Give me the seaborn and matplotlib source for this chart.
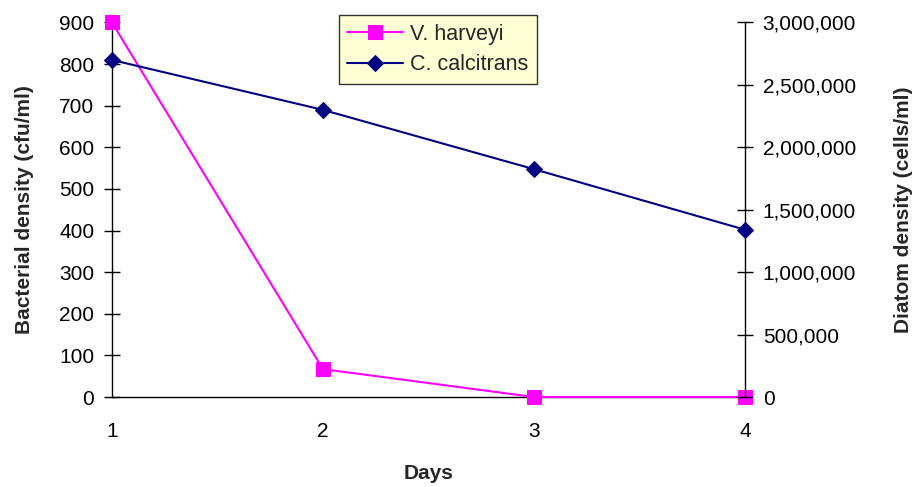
import matplotlib
matplotlib.use("Agg")
import matplotlib.pyplot as plt
import matplotlib.ticker as mticker
import seaborn as sns

# data
days = [1, 2, 3, 4]
v_harveyi = [900, 67, 0, 0]                              # cfu/ml
c_calcitrans = [2700000, 2300000, 1825000, 1340000]      # cells/ml

sns.set_style("white")
plt.rcParams['font.family'] = ['Liberation Sans', 'DejaVu Sans']

fig = plt.figure(figsize=(9.15, 4.87), dpi=100)
ax = fig.add_axes([0.1224, 0.1848, 0.6918, 0.7690])
ax2 = ax.twinx()

sns.lineplot(x=days, y=v_harveyi, ax=ax, color='#FF00FF', marker='s',
             markersize=9.5, markeredgecolor='#FF00FF', linewidth=1.5,
             label='V. harveyi', legend=False, clip_on=False, zorder=5)
sns.lineplot(x=days, y=c_calcitrans, ax=ax2, color='#000080', marker='D',
             markersize=8, markeredgecolor='#000080', linewidth=1.5,
             label='C. calcitrans', legend=False, clip_on=False, zorder=4)

ax.set_xlim(1, 4)
ax.set_ylim(0, 900)
ax2.set_ylim(0, 3000000)
ax.set_xticks(days)
ax.set_yticks(range(0, 901, 100))
ax2.set_yticks(range(0, 3000001, 500000))
ax2.yaxis.set_major_formatter(mticker.FuncFormatter(lambda v, p: f'{int(v):,}'))

for a in (ax, ax2):
    a.spines['top'].set_visible(False)
    for s in a.spines.values():
        s.set_color('black')
        s.set_linewidth(1.0)
    a.tick_params(direction='inout', length=11.5, width=1, colors='black',
                  labelsize=15, pad=7)
ax2.spines['left'].set_visible(False)
ax2.spines['bottom'].set_visible(False)
ax.spines['right'].set_visible(False)
ax.tick_params(axis='x', pad=12)

ax.set_xlabel('Days', fontsize=15, fontweight='bold', labelpad=17)
ax.set_ylabel('Bacterial density (cfu/ml)', fontsize=15, fontweight='bold', labelpad=18)
ax2.set_ylabel('Diatom density (cells/ml)', fontsize=15, fontweight='bold', labelpad=27)

h1, l1 = ax.get_legend_handles_labels()
h2, l2 = ax2.get_legend_handles_labels()
leg = ax2.legend(h1 + h2, l1 + l2, loc='upper left', bbox_to_anchor=(0.358, 1.02),
                 frameon=True, fancybox=False, facecolor='#FFFFCC', edgecolor='black',
                 fontsize=15.5, handlelength=2.6, handletextpad=0.3,
                 borderpad=0.4, labelspacing=0.45, borderaxespad=0)
leg.get_frame().set_linewidth(1.0)
leg.set_zorder(10)

fig.savefig("out.png", dpi=100)
